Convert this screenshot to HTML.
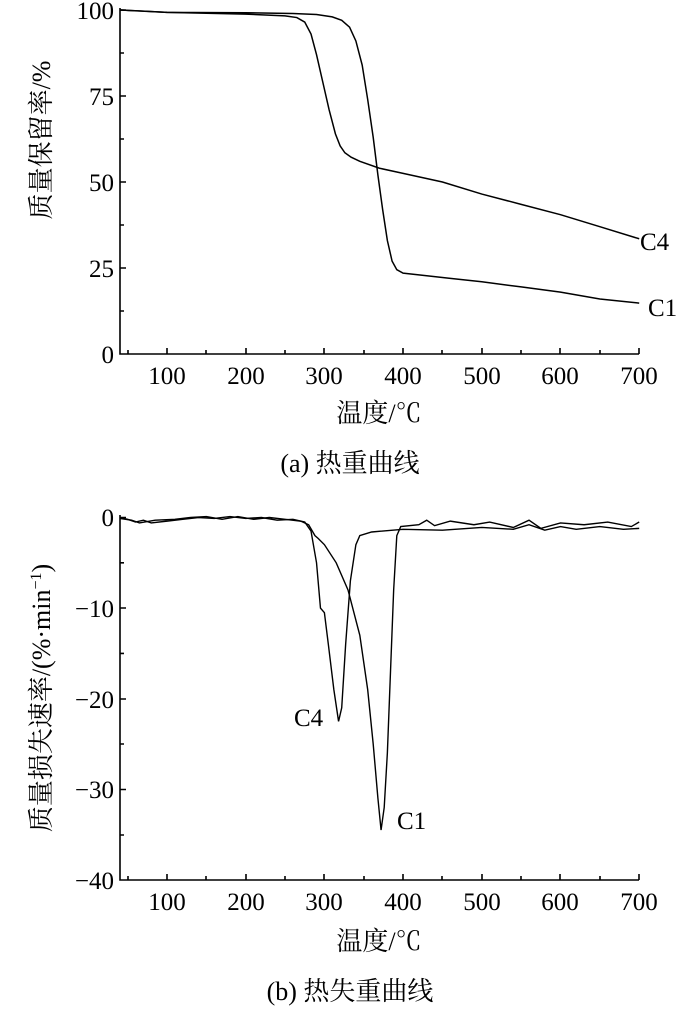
<!DOCTYPE html>
<html><head><meta charset="utf-8"><style>
body{margin:0;background:#fff;width:700px;height:1019px;overflow:hidden}
svg text{font-family:"Liberation Serif","Noto Serif CJK SC","Noto Sans CJK SC",serif;fill:#000}
</style></head><body>
<svg width="700" height="1019" viewBox="0 0 700 1019" xmlns="http://www.w3.org/2000/svg">
<g stroke="#000" stroke-width="1.6" fill="none">
<path d="M120,8 V354 H639"/>
<path d="M120,10h6 M120,53h4 M120,96h6 M120,139h4 M120,182h6 M120,225h4 M120,268h6 M120,311h4"/>
<path d="M128,354v-4 M167,354v-6 M206,354v-4 M246,354v-6 M285,354v-4 M324,354v-6 M364,354v-4 M403,354v-6 M442,354v-4 M482,354v-6 M521,354v-4 M560,354v-6 M600,354v-4 M639,354v-6"/>
<path d="M120,515 V880 H639"/>
<path d="M120,517.5h6 M120,562.8h4 M120,608h6 M120,653.4h4 M120,699h6 M120,744h4 M120,789.5h6 M120,835h4"/>
<path d="M128,880v-4 M167,880v-6 M206,880v-4 M246,880v-6 M285,880v-4 M324,880v-6 M364,880v-4 M403,880v-6 M442,880v-4 M482,880v-6 M521,880v-4 M560,880v-6 M600,880v-4 M639,880v-6"/>
</g>
<g fill="none" stroke="#000" stroke-width="1.5" transform="translate(88.3,354) scale(0.787,-3.44)">
<polyline vector-effect="non-scaling-stroke" points="40,100 60,99.8 100,99.3 200,99.2 260,99 290,98.7 310,98 322,97 332,95 340,91 348,84 355,74 362,63 368,52 374,42 380,33 386,27 392,24.5 400,23.5 420,23 460,22 500,21 550,19.5 600,18 650,16 700,14.8"/>
<polyline vector-effect="non-scaling-stroke" points="40,100 100,99.3 200,98.8 250,98.3 265,97.8 275,96.5 283,93 290,87 298,79 306,71 314,64 320,60.5 326,58.5 334,57.2 345,56 370,54 400,52.5 450,50 500,46.5 550,43.5 600,40.5 650,37 700,33.5"/>
</g>
<g fill="none" stroke="#000" stroke-width="1.4" transform="translate(88.3,517.5) scale(0.787,-9.06)">
<polyline vector-effect="non-scaling-stroke" points="40,0 50,-0.2 60,-0.5 70,-0.3 80,-0.6 100,-0.4 120,-0.2 140,0 160,-0.1 180,0.1 200,-0.1 220,0 240,-0.3 260,-0.2 275,-0.5 283,-1.5 290,-5 295,-10 300,-10.5 305,-14 312,-19 318,-22.5 322,-21 327,-14 333,-7 340,-3 345,-2 360,-1.6 400,-1.3 450,-1.4 500,-1.1 540,-1.3 560,-0.8 580,-1.4 600,-1 620,-1.3 650,-1 680,-1.3 700,-1.2"/>
<polyline vector-effect="non-scaling-stroke" points="40,-0.1 55,-0.3 65,-0.6 85,-0.3 110,-0.2 130,0 150,0.1 170,-0.2 190,0.1 210,-0.2 230,0 250,-0.2 270,-0.4 280,-0.8 288,-2 292,-2.3 300,-3 315,-5 330,-8 345,-13 355,-19 362,-25 368,-31 372,-34.5 376,-32 380,-26 384,-17 388,-8 392,-2 397,-1 420,-0.8 430,-0.3 440,-0.9 460,-0.4 490,-0.8 510,-0.5 540,-1.1 560,-0.3 575,-1.2 600,-0.6 630,-0.8 660,-0.5 690,-1 700,-0.5"/>
</g>
<g font-size="25">
<g text-anchor="end">
<text x="114" y="19">100</text><text x="114" y="105">75</text><text x="114" y="191">50</text><text x="114" y="277">25</text><text x="114" y="363">0</text>
<text x="114" y="526">0</text><text x="114" y="617">−10</text><text x="114" y="708">−20</text><text x="114" y="798">−30</text><text x="114" y="889">−40</text>
</g>
<g text-anchor="middle">
<text x="167" y="384">100</text><text x="246" y="384">200</text><text x="324" y="384">300</text><text x="403" y="384">400</text><text x="482" y="384">500</text><text x="560" y="384">600</text><text x="639" y="384">700</text>
<text x="167" y="910">100</text><text x="246" y="910">200</text><text x="324" y="910">300</text><text x="403" y="910">400</text><text x="482" y="910">500</text><text x="560" y="910">600</text><text x="639" y="910">700</text>
</g>
<text x="640" y="250">C4</text><text x="648" y="316">C1</text>
<text x="294" y="726">C4</text><text x="397" y="829">C1</text>
</g>
<g font-size="26" text-anchor="middle">
<text x="379" y="422">温度/℃</text><text x="379" y="950">温度/℃</text>
<text x="350" y="472">(a) 热重曲线</text><text x="350" y="1000">(b) 热失重曲线</text>
<text transform="translate(50,140) rotate(-90)">质量保留率/%</text>
<text transform="translate(50,698) rotate(-90)">质量损失速率/(%·min<tspan dy="-9" font-size="16">−1</tspan><tspan dy="9">)</tspan></text>
</g>
</svg>
</body></html>
